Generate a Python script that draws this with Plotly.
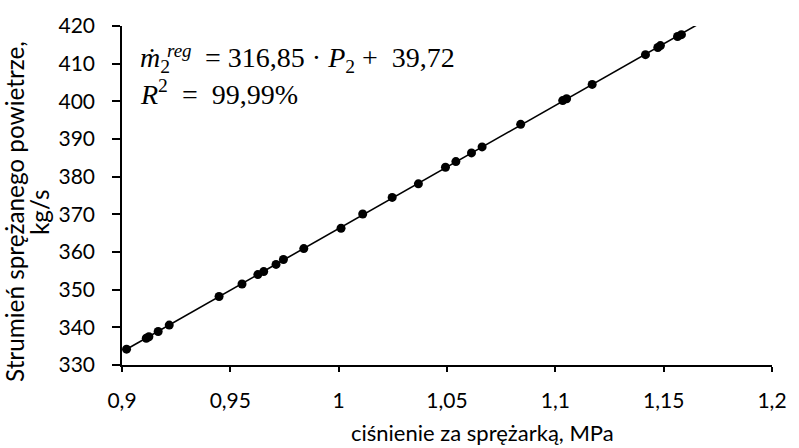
import numpy as np
import plotly.graph_objects as go

# Measured compressor outlet pressure [MPa] and compressed-air mass flow [kg/s]
p2 = [0.9021, 0.9112, 0.9124, 0.9167, 0.9218, 0.9448, 0.9554, 0.9627, 0.9654,
      0.9711, 0.9745, 0.9839, 1.0011, 1.0111, 1.0247, 1.0368, 1.0493, 1.0541,
      1.0613, 1.0662, 1.0840, 1.1034, 1.1052, 1.1170, 1.1416, 1.1473, 1.1485,
      1.1564, 1.1582]
m2 = [334.2, 337.1, 337.5, 338.9, 340.6, 348.2, 351.5, 354.0, 354.8,
      356.7, 358.0, 360.9, 366.3, 370.1, 374.5, 378.1, 382.5, 384.0,
      386.3, 387.9, 393.9, 400.2, 400.7, 404.5, 412.4, 414.3, 414.8,
      417.2, 417.7]

x_ticks = [0.9, 0.95, 1.0, 1.05, 1.1, 1.15, 1.2]
x_ticktext = ["0,9", "0,95", "1", "1,05", "1,1", "1,15", "1,2"]
y_ticks = [330, 340, 350, 360, 370, 380, 390, 400, 410, 420]

x_title = "ciśnienie za sprężarką, MPa"
y_title_lines = ["Strumień sprężanego powietrze,", "kg/s"]

# Linear trend line fitted to the measurements
slope, intercept = np.polyfit(p2, m2, 1)
x_fit = np.array([min(p2), x_ticks[-1]])
y_fit = slope * x_fit + intercept

font_main = "Lato, 'Open Sans', sans-serif"
font_math = "'Liberation Serif', 'DejaVu Serif', serif"

fig = go.Figure()
fig.add_trace(go.Scatter(x=x_fit, y=y_fit, mode="lines",
                         line=dict(color="black", width=1.6),
                         hoverinfo="skip", showlegend=False))
fig.add_trace(go.Scatter(x=p2, y=m2, mode="markers",
                         marker=dict(color="black", size=9),
                         showlegend=False))

fig.update_layout(
    width=799, height=448,
    margin=dict(l=122, r=16, t=20, b=83),
    plot_bgcolor="white", paper_bgcolor="white",
    font=dict(family=font_main, size=21, color="black"),
    showlegend=False,
)
fig.update_xaxes(
    range=[x_ticks[0], x_ticks[-1]], tickvals=x_ticks, ticktext=x_ticktext,
    tickfont=dict(size=21),
    showgrid=False, zeroline=False, showline=True, linecolor="black", linewidth=1.6,
    ticks="outside", ticklen=5, tickwidth=1.6, tickcolor="black",
    ticklabelstandoff=11,
)
fig.update_yaxes(
    range=[y_ticks[0], y_ticks[-1]], tickvals=y_ticks,
    tickfont=dict(size=21),
    showgrid=False, zeroline=False, showline=True, linecolor="black", linewidth=1.6,
    ticks="outside", ticklen=8, tickwidth=1.6, tickcolor="black",
    ticklabelstandoff=13,
)

# Axis titles
fig.add_annotation(text=x_title, xref="paper", yref="paper", x=0, y=0,
                   xanchor="center", yanchor="middle", xshift=360, yshift=-67,
                   showarrow=False, font=dict(family=font_main, size=22))
for i, line in enumerate(y_title_lines):
    fig.add_annotation(text=line, xref="paper", yref="paper", x=0, y=1,
                       xanchor="center", yanchor="middle",
                       xshift=-108 + 25 * i, yshift=-186,
                       textangle=-90, showarrow=False,
                       font=dict(family=font_main, size=24.3))

# Regression equation and coefficient of determination
mf = dict(family=font_math, size=28, color="black")
eq_line = ("<i>ṁ</i><sub>2</sub>\u00a0\u00a0\u00a0\u00a0\u00a0= 316,85 · "
           "<i>P</i><sub>2</sub> +\u00a0 39,72")
r2_line = "<i>R</i><sup>2</sup>\u00a0 = \u00a099,99%"
fig.add_annotation(text=eq_line, xref="paper", yref="paper",
                   x=0, y=1, xanchor="left", yanchor="middle", xshift=17, yshift=-33,
                   showarrow=False, borderpad=0, font=mf)
# superscript "reg" stacked above the subscript of m-dot
fig.add_annotation(text="<i>reg</i>", xref="paper", yref="paper",
                   x=0, y=1, xanchor="left", yanchor="middle", xshift=44, yshift=-24,
                   showarrow=False, borderpad=0,
                   font=dict(family=font_math, size=19, color="black"))
fig.add_annotation(text=r2_line, xref="paper", yref="paper",
                   x=0, y=1, xanchor="left", yanchor="middle", xshift=17, yshift=-66,
                   showarrow=False, borderpad=0, font=mf)

fig.write_html("out.html")
